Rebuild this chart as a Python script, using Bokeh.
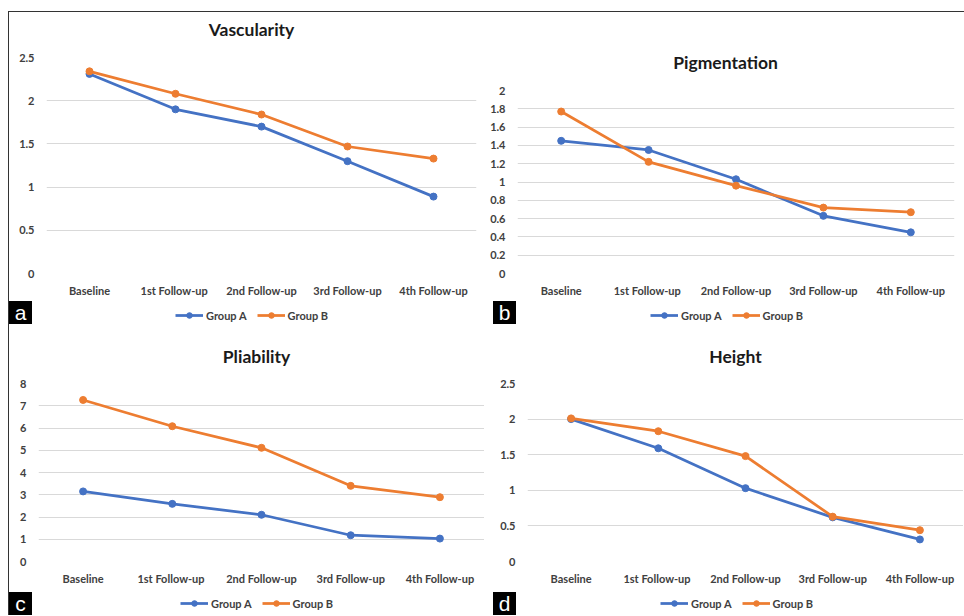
from bokeh.plotting import figure
from bokeh.layouts import column, row
from bokeh.models import Legend, LegendItem, FixedTicker, PrintfTickFormatter, Div, Label
from bokeh.embed import file_html
from bokeh.resources import INLINE

stages = ["Baseline", "1st  Follow-up", "2nd Follow-up", "3rd Follow-up", "4th Follow-up"]
group_names = ["Group A", "Group B"]

vascularity_a = [2.31, 1.90, 1.70, 1.30, 0.89]
vascularity_b = [2.34, 2.08, 1.84, 1.47, 1.33]
pigmentation_a = [1.45, 1.35, 1.03, 0.63, 0.45]
pigmentation_b = [1.77, 1.22, 0.96, 0.72, 0.67]
pliability_a = [3.15, 2.59, 2.10, 1.18, 1.03]
pliability_b = [7.26, 6.08, 5.11, 3.40, 2.89]
height_a = [2.00, 1.59, 1.03, 0.62, 0.31]
height_b = [2.01, 1.83, 1.48, 0.63, 0.44]

vascularity_ticks = [0, 0.5, 1, 1.5, 2, 2.5]
pigmentation_ticks = [0, 0.2, 0.4, 0.6, 0.8, 1, 1.2, 1.4, 1.6, 1.8, 2]
pliability_ticks = [0, 1, 2, 3, 4, 5, 6, 7, 8]
height_ticks = [0, 0.5, 1, 1.5, 2, 2.5]

BLUE = "#4472C4"
ORANGE = "#ED7D31"
FONT = "Lato"
TICK_COLOR = "#404040"


def strip(w, h):
    q = figure(width=w, height=h, x_range=(0, 1), y_range=(0, 1),
               output_backend="svg", toolbar_location=None, min_border=0,
               x_axis_location=None, y_axis_location=None)
    q.outline_line_color = None
    q.grid.grid_line_color = None
    q.background_fill_color = "white"
    q.border_fill_color = "white"
    return q


def title_strip(text, w, h, cx, cy):
    q = strip(w, h)
    q.add_layout(Label(x=cx, y=cy, x_units="screen", y_units="screen", text=text,
                       text_align="center", text_baseline="middle",
                       text_font=FONT, text_font_style="bold",
                       text_font_size="17.5px", text_color="#1a1a1a"))
    return q


def chart(ya, yb, ticks, w, h, left, right, top, bottom):
    p = figure(x_range=stages, y_range=(ticks[0], ticks[-1]), width=w, height=h,
               output_backend="svg", toolbar_location=None,
               min_border_left=left, min_border_right=right,
               min_border_top=top, min_border_bottom=bottom)
    p.outline_line_color = None
    p.background_fill_color = "white"
    p.border_fill_color = "white"
    p.xgrid.grid_line_color = None
    p.yaxis.ticker = FixedTicker(ticks=ticks)
    p.ygrid.grid_line_color = "#d9d9d9"
    p.ygrid.grid_line_width = 1
    p.yaxis.formatter = PrintfTickFormatter(format="%g")
    for ax in (p.xaxis[0], p.yaxis[0]):
        ax.axis_line_color = None
        ax.major_tick_line_color = None
        ax.minor_tick_line_color = None
        ax.major_tick_out = 0
        ax.major_tick_in = 0
        ax.major_label_text_font = FONT
        ax.major_label_text_font_style = "bold"
        ax.major_label_text_font_size = "11px"
        ax.major_label_text_color = TICK_COLOR
    p.xaxis.major_label_standoff = 10
    p.yaxis.major_label_standoff = 12

    p.line(stages, ya, line_color=BLUE, line_width=2.75)
    p.scatter(stages, ya, marker="circle", size=7, fill_color=BLUE, line_color=BLUE)
    p.line(stages, yb, line_color=ORANGE, line_width=2.75)
    p.scatter(stages, yb, marker="circle", size=7, fill_color=ORANGE, line_color=ORANGE)
    return p


def legend_strip(w, h, loc):
    q = strip(w, h)
    # off-screen stand-ins that only carry the legend's line/marker styles
    la = q.line(x=[-1, -2], y=[-1, -2], line_color=BLUE, line_width=2.75)
    sa = q.scatter(x=[-1], y=[-1], marker="circle", size=7, fill_color=BLUE, line_color=BLUE)
    lb = q.line(x=[-1, -2], y=[-1, -2], line_color=ORANGE, line_width=2.75)
    sb = q.scatter(x=[-1], y=[-1], marker="circle", size=7, fill_color=ORANGE, line_color=ORANGE)
    legend = Legend(items=[LegendItem(label=group_names[0], renderers=[la, sa]),
                           LegendItem(label=group_names[1], renderers=[lb, sb])],
                    location=loc, orientation="horizontal",
                    border_line_color=None, background_fill_alpha=0,
                    padding=0, margin=0, spacing=10,
                    glyph_width=28, glyph_height=14, label_height=14,
                    label_standoff=3, label_text_font=FONT,
                    label_text_font_style="bold", label_text_font_size="11px",
                    label_text_color=TICK_COLOR)
    q.add_layout(legend)
    return q


def tag(letter, margin):
    return Div(text=letter, width=23, height=23, margin=margin,
               styles={"background-color": "black", "color": "white",
                       "font-family": "Liberation Sans", "font-size": "21px",
                       "line-height": "23px", "text-align": "center",
                       "z-index": "10"})


# strips share the chart's frame edges inside each column, so their screen
# offsets are measured from the chart's frame left edge
panel_a = column(
    title_strip("Vascularity", 475, 37, 205, 20),
    chart(vascularity_a, vascularity_b, vascularity_ticks, 475, 252, 37, 8, 8, 28),
    legend_strip(475, 27, (129, 6)),
    tag("a", (-27, 0, 4, 0)),
)
panel_b = column(
    title_strip("Pigmentation", 480, 70, 208, 20),
    chart(pigmentation_a, pigmentation_b, pigmentation_ticks, 480, 219, 33, 10, 8, 28),
    legend_strip(480, 27, (133, 6)),
    tag("b", (-27, 0, 4, 9)),
)
panel_c = column(
    title_strip("Pliability", 475, 47, 218, 19),
    chart(pliability_a, pliability_b, pliability_ticks, 475, 214, 29, 0, 8, 28),
    legend_strip(475, 26, (142, 5)),
    tag("c", (-23, 0, 0, 0)),
)
panel_d = column(
    title_strip("Height", 479, 47, 208, 19),
    chart(height_a, height_b, height_ticks, 479, 214, 43, 0, 8, 28),
    legend_strip(479, 26, (133, 5)),
    tag("d", (-23, 0, 0, 9)),
)

page = column(row(panel_a, panel_b), row(panel_c, panel_d), margin=(11, 0, 0, 8))
page.styles = {"border-top": "1px solid #333333", "border-left": "1px solid #333333"}

open("out.html", "w").write(file_html(page, INLINE))
